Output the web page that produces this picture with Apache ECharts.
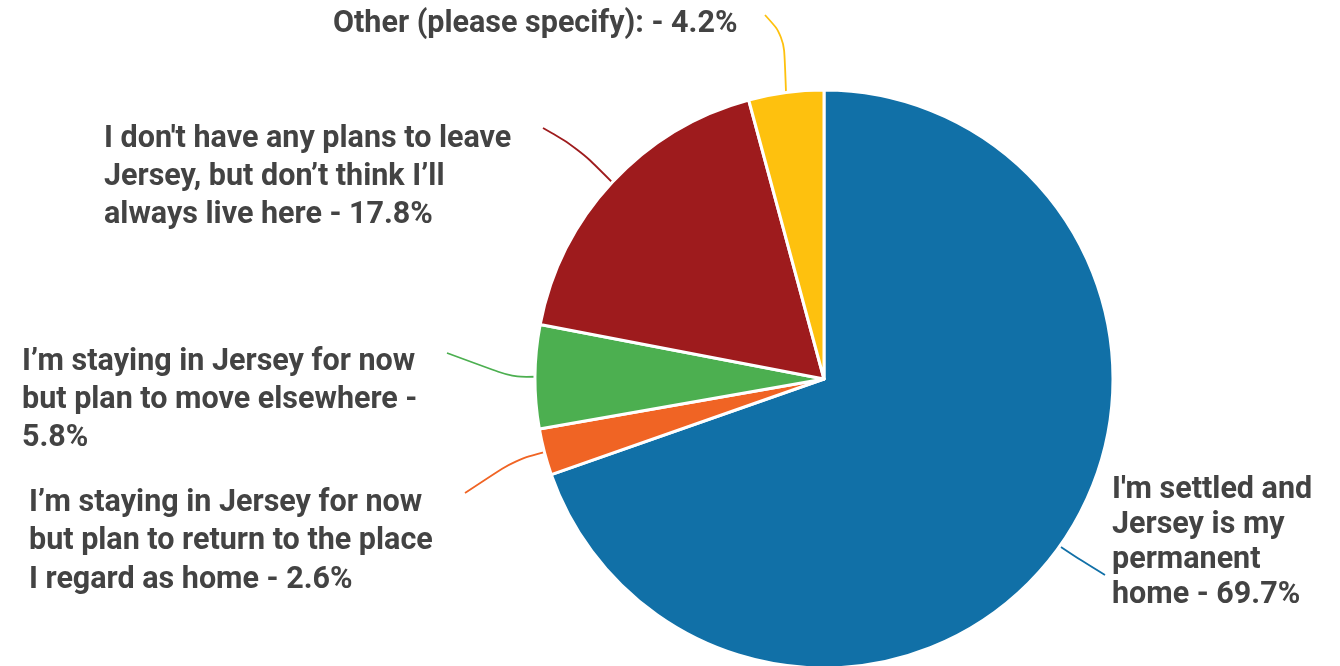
<!DOCTYPE html>
<html>
<head>
<meta charset="utf-8">
<script src="https://cdn.jsdelivr.net/npm/echarts@6/dist/echarts.min.js"></script>
<style>
  html, body { margin: 0; padding: 0; background: #fff; }
  #chart { width: 1340px; height: 666px; }
</style>
</head>
<body>
<div id="chart"></div>
<script>
// Survey answers, in clockwise order starting from 12 o'clock
const categories = [
  "I'm settled and\nJersey is my\npermanent\nhome",
  "I’m staying in Jersey for now\nbut plan to return to the place\nI regard as home",
  "I’m staying in Jersey for now\nbut plan to move elsewhere",
  "I don't have any plans to leave\nJersey, but don’t think I’ll\nalways live here",
  "Other (please specify):"
];
const values = [69.7, 2.6, 5.8, 17.8, 4.2];
// text placed between the answer and its percentage
const separators = [' - ', ' - ', ' -\n', ' - ', ' - '];
const colors = ['#1170a7', '#f06424', '#4caf50', '#9e1b1d', '#fec10e'];

// Pie geometry (px)
const CX = 824, CY = 379, R = 289;

// Label anchor (top-left) and leader-line bends for each slice
const labelPlacement = [
  { x: 1112, y: 473, lh: 35, mid: [1082, 561], end: [1105, 575] },
  { x: 29,   y: 484, lh: 38.5, mid: [515, 460], end: [465, 493] },
  { x: 22,   y: 343, lh: 38, mid: [512, 377], end: [447, 353] },
  { x: 104,  y: 120, lh: 38, mid: [578, 148], end: [543, 128] },
  { x: 333,  y: 5,   lh: 38, mid: [784, 36],  end: [765, 15] }
];

const total = values.reduce((a, b) => a + b, 0);
// Point on the rim at the middle of each slice (angle clockwise from top)
const rimPoints = [];
let acc = 0;
values.forEach(v => {
  const midDeg = (acc + v / 2) / total * 360;
  acc += v;
  const t = midDeg * Math.PI / 180;
  rimPoints.push([CX + R * Math.sin(t), CY - R * Math.cos(t)]);
});

const chart = echarts.init(document.getElementById('chart'), null, { renderer: 'canvas' });

chart.setOption({
  backgroundColor: '#ffffff',
  animation: false,
  series: [{
    type: 'pie',
    center: [CX, CY],
    radius: R,
    startAngle: 90,
    clockwise: true,
    avoidLabelOverlap: false,
    data: categories.map((name, i) => ({
      name: name,
      value: values[i],
      itemStyle: { color: colors[i] },
      label: { lineHeight: labelPlacement[i].lh }
    })),
    itemStyle: { borderColor: '#ffffff', borderWidth: 3 },
    label: {
      show: true,
      position: 'outside',
      fontFamily: 'Roboto',
      fontWeight: 'bold',
      fontSize: 30.5,
      color: '#434343',
      align: 'left',
      formatter: p => p.name + separators[p.dataIndex] + p.value + '%'
    },
    labelLine: {
      show: true,
      smooth: 0.35,
      length: 20,
      length2: 20,
      lineStyle: { width: 1.8 }
    },
    labelLayout: params => {
      const i = params.dataIndex;
      const lp = labelPlacement[i];
      return {
        x: lp.x,
        y: lp.y,
        align: 'left',
        verticalAlign: 'top',
        labelLinePoints: [rimPoints[i], lp.mid, lp.end]
      };
    }
  }]
});
</script>
</body>
</html>
